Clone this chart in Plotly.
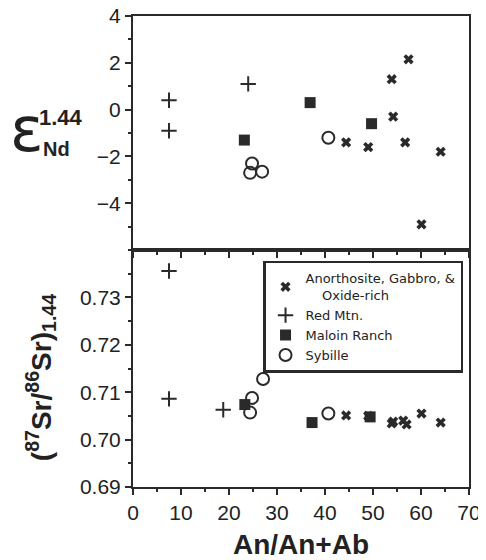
import plotly.graph_objects as go
from plotly.subplots import make_subplots

# ---- data: top panel (epsilon Nd at 1.44 Ga) ----
anorth_x_nd = [44.4, 49.0, 53.9, 54.2, 56.7, 57.4, 60.1, 64.1]
anorth_nd = [-1.4, -1.6, 1.3, -0.3, -1.4, 2.15, -4.9, -1.8]
red_x_nd = [7.5, 7.5, 24.0]
red_nd = [0.4, -0.9, 1.1]
maloin_x_nd = [23.2, 36.9, 49.7]
maloin_nd = [-1.3, 0.3, -0.6]
sybille_x_nd = [24.8, 24.4, 26.9, 40.7]
sybille_nd = [-2.3, -2.7, -2.65, -1.2]

# ---- data: bottom panel (87Sr/86Sr at 1.44 Ga) ----
anorth_x_sr = [44.4, 49.0, 53.9, 54.2, 56.3, 57.0, 60.1, 64.1]
anorth_sr = [0.7051, 0.7050, 0.7034, 0.7038, 0.7040, 0.7032, 0.7055, 0.7036]
red_x_sr = [7.5, 7.5, 18.8]
red_sr = [0.7356, 0.7086, 0.7063]
maloin_x_sr = [23.3, 37.3, 49.4]
maloin_sr = [0.7074, 0.7036, 0.7048]
sybille_x_sr = [24.4, 24.8, 27.1, 40.7]
sybille_sr = [0.7057, 0.7088, 0.7128, 0.7055]

names = ["Anorthosite, Gabbro, &<br>&nbsp;&nbsp;&nbsp;&nbsp;Oxide-rich",
         "Red Mtn.", "Maloin Ranch", "Sybille"]
x_ticks = [0, 10, 20, 30, 40, 50, 60, 70]
nd_ticks = [-4, -2, 0, 2, 4]
sr_ticks = [0.69, 0.70, 0.71, 0.72, 0.73]

INK = "#2a2a2a"
FONT = "Liberation Sans"

styles = [
    dict(symbol="x", size=9, color=INK, line=dict(width=0)),
    dict(symbol="cross-thin", size=11, color=INK, line=dict(width=2, color=INK)),
    dict(symbol="square", size=11, color=INK, line=dict(width=0)),
    dict(symbol="circle-open", size=12, color=INK, line=dict(width=2, color=INK)),
]

fig = make_subplots(rows=2, cols=1, shared_xaxes=False, vertical_spacing=0)

top_sets = [(anorth_x_nd, anorth_nd), (red_x_nd, red_nd),
            (maloin_x_nd, maloin_nd), (sybille_x_nd, sybille_nd)]
bot_sets = [(anorth_x_sr, anorth_sr), (red_x_sr, red_sr),
            (maloin_x_sr, maloin_sr), (sybille_x_sr, sybille_sr)]

for (xs, ys), st, nm in zip(top_sets, styles, names):
    fig.add_trace(go.Scatter(x=xs, y=ys, mode="markers", marker=st, name=nm,
                             showlegend=False), row=1, col=1)
for (xs, ys), st, nm in zip(bot_sets, styles, names):
    fig.add_trace(go.Scatter(x=xs, y=ys, mode="markers", marker=st, name=nm,
                             showlegend=True), row=2, col=1)

axis_common = dict(showline=True, linecolor=INK, linewidth=2, mirror=True,
                   showgrid=False, zeroline=False, tickcolor=INK, tickwidth=1.5,
                   automargin=False, ticklabeloverflow="allow",
                   tickfont=dict(family=FONT, size=21, color="#222"))

fig.update_xaxes(range=[0, 70], tickvals=x_ticks, ticks="outside", ticklen=6,
                 minor=dict(dtick=5, ticks="outside", ticklen=3, tickcolor=INK, tickwidth=1.5),
                 **axis_common)
fig.update_xaxes(showticklabels=False, row=1, col=1)
fig.update_xaxes(title=dict(text="<b>An/An+Ab</b>", font=dict(family=FONT, size=28, color="#222"),
                            standoff=12), row=2, col=1)

fig.update_yaxes(**axis_common)
fig.update_yaxes(range=[-6, 4], tickvals=nd_ticks, ticks="outside", ticklen=6,
                 minor=dict(dtick=1, ticks="outside", ticklen=3, tickcolor=INK, tickwidth=1.5),
                 domain=[0.503, 1.0], row=1, col=1)
fig.update_yaxes(range=[0.69, 0.74], tickvals=sr_ticks, tickformat=".2f",
                 ticks="outside", ticklen=6,
                 minor=dict(dtick=0.005, ticks="outside", ticklen=3, tickcolor=INK, tickwidth=1.5),
                 domain=[0.0, 0.503], row=2, col=1)

annotations = [
    dict(text="ε", x=0, xref="paper", y=0.76, yref="paper", xanchor="center",
         yanchor="middle", xshift=-106, showarrow=False,
         font=dict(family="DejaVu Sans", size=62, color="#222")),
    dict(text="<b>1.44</b>", x=0, xref="paper", y=0.784, yref="paper", xanchor="center",
         yanchor="middle", xshift=-72, showarrow=False,
         font=dict(family=FONT, size=22, color="#222")),
    dict(text="<b>Nd</b>", x=0, xref="paper", y=0.7176, yref="paper", xanchor="center",
         yanchor="middle", xshift=-77, showarrow=False,
         font=dict(family=FONT, size=20, color="#222")),
    dict(text="<b>(<sup>87</sup>Sr/<sup>86</sup>Sr)<sub>1.44</sub></b>", x=0, xref="paper",
         y=0.231, yref="paper", xanchor="center", yanchor="middle", xshift=-92,
         textangle=-90, showarrow=False,
         font=dict(family=FONT, size=28, color="#222")),
]

# The page body has an 8px default margin, so the figure is sized and
# margined to land the plot area where the reference has it.
fig.update_layout(
    width=478, height=552,
    margin=dict(l=125, r=17, t=8, b=73, autoexpand=False),
    plot_bgcolor="white", paper_bgcolor="white",
    annotations=annotations,
    legend=dict(x=0.387, y=0.48, xanchor="left", yanchor="top",
                bgcolor="white", bordercolor=INK, borderwidth=2.5,
                font=dict(family="DejaVu Sans", size=13, color="#222"),
                tracegroupgap=0, itemwidth=30),
)

fig.write_html("out.html")
